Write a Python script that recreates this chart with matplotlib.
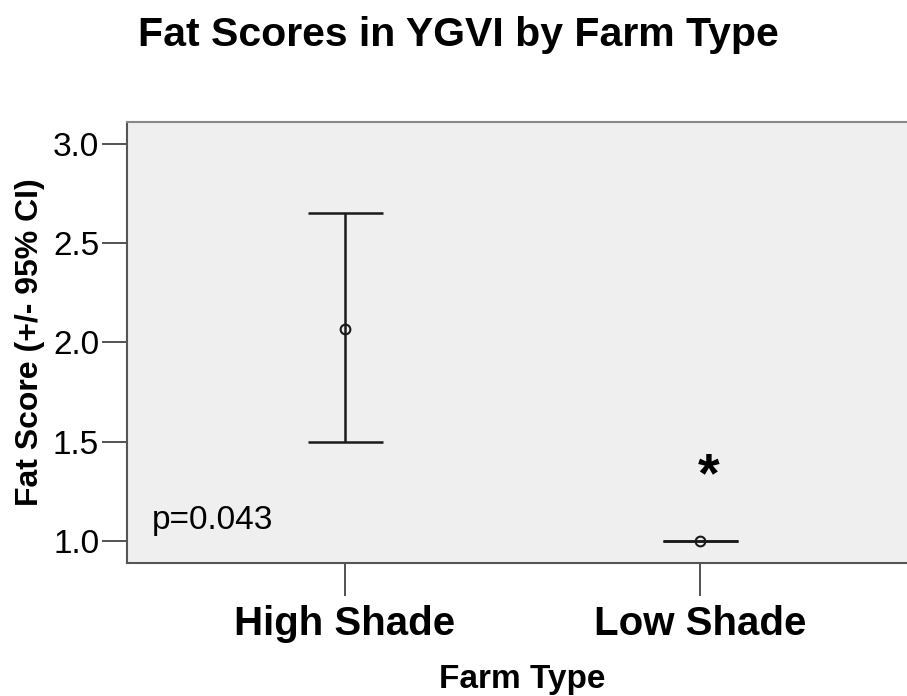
import matplotlib.pyplot as plt
import numpy as np

plt.rcParams['font.family'] = ['Liberation Sans', 'DejaVu Sans']

# data
farm_types = ["High Shade", "Low Shade"]
means = [2.07, 1.0]
ci_low = [1.50, 1.0]
ci_high = [2.65, 1.0]
y_ticks = [1.0, 1.5, 2.0, 2.5, 3.0]

fig = plt.figure(figsize=(9.07, 6.96), dpi=100)
ax = fig.add_axes([0.140, 0.191, 0.872, 0.634])
ax.set_facecolor('#efefef')

x = np.arange(len(farm_types))
means = np.array(means)
yerr = [means - np.array(ci_low), np.array(ci_high) - means]

ax.errorbar(x, means, yerr=yerr, fmt='none', ecolor='#1a1a1a', elinewidth=1.8,
            capsize=27, capthick=1.8, zorder=2)
ax.plot(x, means, 'o', markerfacecolor='none', markeredgecolor='#1a1a1a',
        markersize=7, markeredgewidth=1.5, zorder=3)

ax.set_xlim(-0.614, 1.614)
ax.set_ylim(0.889, 3.111)
ax.set_xticks(x)
ax.set_xticklabels(farm_types, fontsize=29, fontweight='bold')
ax.set_yticks(y_ticks)
ax.set_yticklabels([f"{v:.1f}" for v in y_ticks], fontsize=24)

ax.tick_params(axis='y', length=18, width=1.3, color='#444444', pad=2)
ax.tick_params(axis='x', length=24, width=1.3, color='#444444', pad=6)

for side in ['left', 'bottom']:
    ax.spines[side].set_color('#555555')
    ax.spines[side].set_linewidth(1.5)
ax.spines['top'].set_color('#888888')
ax.spines['top'].set_linewidth(1.5)
ax.spines['right'].set_visible(False)

ax.set_ylabel("Fat Score (+/- 95% CI)", fontsize=23, fontweight='bold', labelpad=6)
ax.set_xlabel("Farm Type", fontsize=24, fontweight='bold', labelpad=15)

ax.text(0.032, 0.077, "p=0.043", transform=ax.transAxes, fontsize=24,
        va='baseline')
ax.text(1.025, 1.32, "*", fontsize=40, fontweight='bold', ha='center',
        va='center')

fig.text(0.505, 0.950, "Fat Scores in YGVI by Farm Type", fontsize=29.5,
         fontweight='bold', ha='center', va='center')

fig.savefig("out.png", dpi=100, facecolor='white')
